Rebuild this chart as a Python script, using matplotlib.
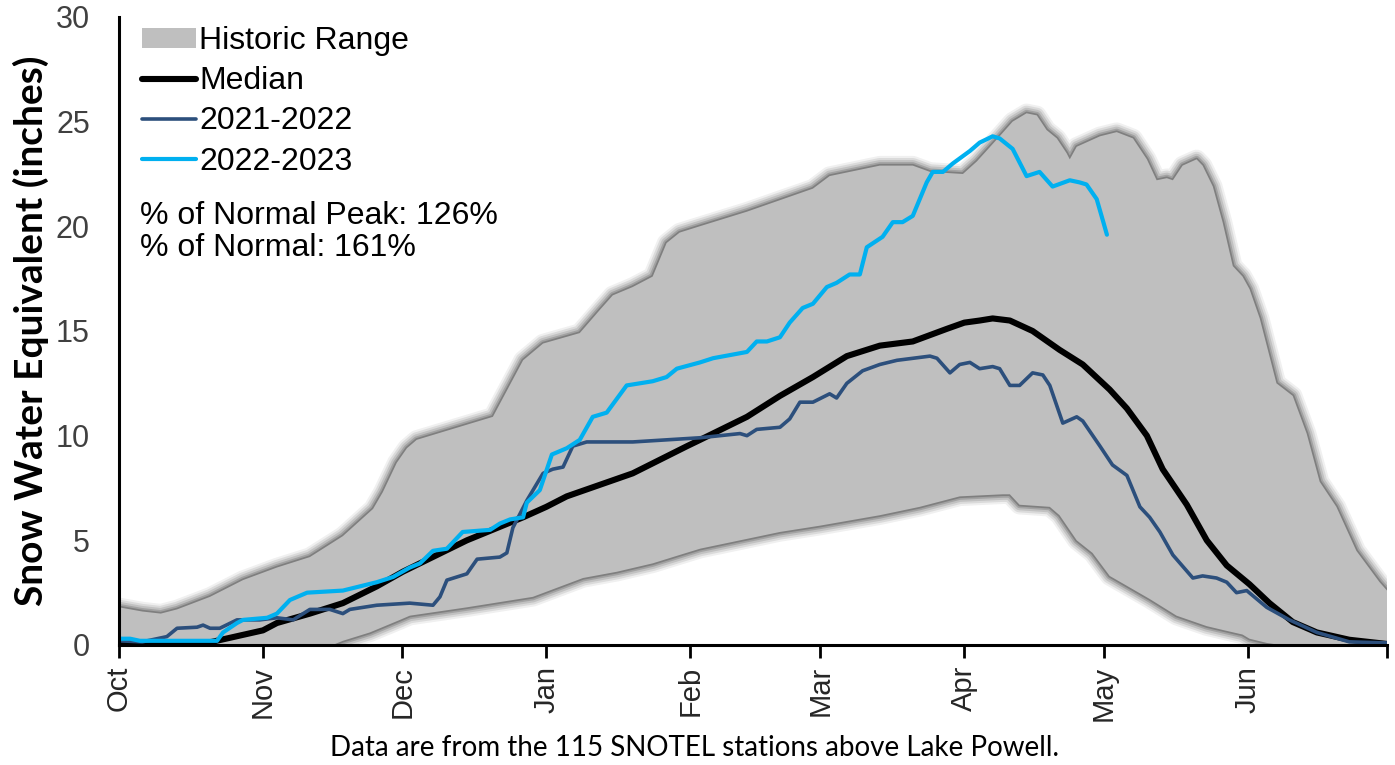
import matplotlib.pyplot as plt
from matplotlib.lines import Line2D
from matplotlib.patches import Patch
import numpy as np

# days since Oct 1 / snow water equivalent (inches)
hist_upper_day = [0, 5, 9, 12.5, 19.6, 26.7, 34, 41.1, 48.2, 54.7, 56.8, 59.8, 62, 64.1, 80.5, 87,
                  91.3, 99.2, 103.5, 106.3, 110.6, 114.9, 117.9, 120.7, 125, 135.2, 149.4, 153,
                  163.8, 170.9, 174.6, 181.7, 184.7, 189.6, 192.4, 195.4, 197.6, 199.7, 201.9, 204,
                  204.7, 206.2, 211.2, 214.8, 218.3, 221.3, 223.4, 225.6, 226.9, 229, 232, 233.3,
                  235.5, 237.6, 239.8, 241.9, 243.4, 245.6, 249.2, 252.7, 255.7, 258.5, 262.1,
                  266.4, 271.4, 273]
hist_upper = [1.8, 1.6, 1.5, 1.7, 2.3, 3.1, 3.7, 4.2, 5.2, 6.5, 7.3, 8.7, 9.4, 9.8, 10.9, 13.6,
              14.4, 14.9, 16.0, 16.7, 17.1, 17.6, 19.2, 19.7, 20.0, 20.7, 21.8, 22.4,
              22.9, 22.9, 22.6, 22.5, 23.1, 24.3, 25.0, 25.4, 25.3, 24.6, 24.2, 23.5,
              23.2, 23.8, 24.3, 24.5, 24.2, 23.2, 22.2, 22.3, 22.2, 22.9, 23.2, 22.9,
              21.9, 20.2, 18.1, 17.6, 17.0, 15.6, 12.5, 11.9, 10.1, 7.8, 6.6,
              4.5, 3.0, 2.6]

hist_lower_day = [0, 46, 48.2, 54, 60.5, 62.6, 74.9, 89.1, 99.9, 107.2, 114.9, 120.7, 125.1,
                  133.7, 142.3, 150.9, 163.8, 172.4, 181, 190.3, 191.8, 193.9, 200.4, 202.5,
                  206.2, 209.6, 213.3, 221.9, 227.7, 234.2, 238, 241.9, 243.4, 247.1, 250, 273]
hist_lower = [0, 0, 0.2, 0.6, 1.2, 1.4, 1.8, 2.3, 3.2, 3.5, 3.9, 4.3, 4.6,
              5.0, 5.4, 5.7, 6.2, 6.6, 7.1, 7.2, 7.2, 6.7, 6.6, 6.2,
              5.0, 4.4, 3.3, 2.2, 1.4, 0.9, 0.7, 0.5, 0.3, 0.1, 0, 0]

median_day = [0, 15, 20, 25, 31, 34, 41.1, 48.2, 55.5, 61.1, 74.9, 87, 92, 96.4, 110.6, 122.3,
              125.1, 135.2, 142.3, 149.4, 156.7, 163.8, 170.9, 178.2, 182, 185.3, 188.1, 191.8,
              196.7, 202.5, 207.5, 213.3, 217, 221.3, 224.7, 229.9, 234.2, 238.5, 243.4, 247.7,
              252.7, 257.9, 264.9, 273]
median = [0, 0, 0.15, 0.4, 0.7, 1.05, 1.5, 2.0, 2.8, 3.5, 5.0, 6.1, 6.6, 7.1, 8.2, 9.5,
          9.8, 10.9, 11.9, 12.8, 13.8, 14.3, 14.5, 15.1, 15.4, 15.5, 15.6, 15.5,
          15.0, 14.1, 13.4, 12.2, 11.3, 10.0, 8.4, 6.7, 5.0, 3.8, 2.9, 2.0,
          1.1, 0.6, 0.25, 0.05]

wy2022_day = [0, 5, 10.3, 12.5, 16.8, 18.1, 19.6, 21.7, 25.4, 30.3, 34, 37.5, 41.1, 45.4, 48.2,
              49.7, 55.5, 62.6, 67.6, 69.1, 70.6, 74.9, 77.1, 82, 83.5, 84.8, 87.8, 91.3, 93.4,
              95.6, 97.7, 100.7, 110.6, 125.1, 133.7, 135.2, 137.3, 142.3, 144.4, 146.6, 149.4,
              153, 154.5, 156.7, 160.1, 163.8, 167.5, 174.6, 176.1, 178.9, 181, 183.2, 185.3,
              188.1, 189.6, 191.8, 193.9, 196.7, 198.9, 200.4, 203.2, 206.2, 207.5, 211.2,
              213.9, 217, 219.8, 221.9, 224.1, 226.9, 231.2, 233.3, 236.3, 238.5, 240.6, 242.8,
              247.1, 252, 257.9, 264.9, 273]
wy2022 = [0.2, 0.15, 0.4, 0.8, 0.85, 0.95, 0.8, 0.8, 1.2, 1.2, 1.3, 1.2, 1.7, 1.7, 1.5,
          1.7, 1.9, 2.0, 1.9, 2.3, 3.1, 3.4, 4.1, 4.2, 4.4, 5.6, 6.9, 8.2, 8.4,
          8.5, 9.5, 9.7, 9.7, 9.9, 10.1, 10.0, 10.3, 10.4, 10.8, 11.6, 11.6,
          12.0, 11.8, 12.5, 13.1, 13.4, 13.6, 13.8, 13.7, 13.0, 13.4, 13.5, 13.2,
          13.3, 13.2, 12.4, 12.4, 13.0, 12.9, 12.4, 10.6, 10.9, 10.7, 9.5,
          8.6, 8.1, 6.6, 6.1, 5.4, 4.3, 3.2, 3.3, 3.2, 3.0, 2.5, 2.6,
          1.8, 1.2, 0.6, 0.15, 0.1]

wy2023_day = [0, 2.4, 4.5, 11, 21.1, 22.4, 25.4, 26.7, 31.9, 34, 36.8, 40.5, 48.2, 55.5, 59,
              62.6, 64.8, 67.6, 70.6, 74, 79.9, 82, 84.2, 87, 87.8, 90.6, 93.2, 96.4, 99.2, 102,
              105, 109.3, 114.9, 117.9, 120.1, 125.1, 127.9, 135.2, 137.3, 139.5, 142.3, 144.4,
              147.2, 149.4, 152.4, 154.5, 157.3, 159.5, 161, 164.4, 166.6, 168.7, 170.9, 173.9,
              175.2, 177.4, 179.5, 183.2, 185.3, 188.1, 189.6, 192.4, 195.4, 198.2, 201, 204.7,
              206.8, 208.3, 210.5, 211.8, 212.7]
wy2023 = [0.3, 0.3, 0.2, 0.2, 0.2, 0.6, 1.05, 1.2, 1.3, 1.5, 2.15, 2.5, 2.6, 3.0, 3.25,
          3.7, 3.9, 4.5, 4.6, 5.4, 5.5, 5.8, 6.0, 6.1, 6.8, 7.4, 9.1, 9.4, 9.8, 10.9,
          11.1, 12.4, 12.6, 12.8, 13.2, 13.5, 13.7, 14.0, 14.5, 14.5, 14.7, 15.4,
          16.1, 16.3, 17.1, 17.3, 17.7, 17.7, 19.0, 19.5, 20.2, 20.2, 20.5, 22.1,
          22.6, 22.6, 23.0, 23.6, 24.0, 24.3, 24.2, 23.7, 22.4, 22.6, 21.9, 22.2,
          22.1, 22.0, 21.3, 20.3, 19.6]

month_days = [0, 31, 61, 92, 123, 151, 182, 212, 243, 273]
month_labels = ["Oct", "Nov", "Dec", "Jan", "Feb", "Mar", "Apr", "May", "Jun", ""]
y_ticks = [0, 5, 10, 15, 20, 25, 30]

pct_peak = 126
pct_normal = 161

# ----------------------------------------------------------------------------------------------
# figure
# ----------------------------------------------------------------------------------------------
plt.rcParams["font.family"] = ["Liberation Sans", "DejaVu Sans"]
fig = plt.figure(figsize=(13.95, 7.65), dpi=100)
ax = fig.add_axes([119 / 1395, 120 / 765, (1387 - 119) / 1395, (645 - 17) / 765])

poly_x = np.concatenate([hist_upper_day, hist_lower_day[::-1]])
poly_y = np.concatenate([hist_upper, hist_lower[::-1]])

# soft shadow round the historic range
for w, a in [(14, 0.08), (11, 0.12), (8, 0.16), (5, 0.24), (2.5, 0.35)]:
    ax.fill(poly_x, poly_y, facecolor="none", edgecolor="#404040", linewidth=w, alpha=a,
            joinstyle="round", zorder=1)
ax.fill(poly_x, poly_y, facecolor="#bfbfbf", edgecolor="none", zorder=2)

ax.plot(median_day, median, color="black", linewidth=4.4, solid_capstyle="round", zorder=3)
ax.plot(wy2022_day, wy2022, color="#2c4f7c", linewidth=2.6, solid_capstyle="round", zorder=4)
ax.plot(wy2023_day, wy2023, color="#00b0f0", linewidth=3.0, solid_capstyle="round", zorder=5)

ax.set_xlim(0, 273)
ax.set_ylim(0, 30)
ax.set_xticks(month_days)
ax.set_xticklabels(month_labels, rotation=90, fontsize=21, color="#262626")
ax.set_yticks(y_ticks)
ax.set_yticklabels([str(v) for v in y_ticks], fontsize=22, color="#404040")
ax.tick_params(axis="x", length=9, width=2, direction="out", pad=6)
ax.tick_params(axis="y", length=0, pad=21)

for side in ["top", "right"]:
    ax.spines[side].set_visible(False)
for side in ["left", "bottom"]:
    ax.spines[side].set_linewidth(2.2)
    ax.spines[side].set_zorder(6)

ax.set_ylabel("Snow Water Equivalent (inches)", fontsize=28, fontweight="bold",
              family=["Lato", "DejaVu Sans"])
ax.yaxis.set_label_coords(-0.055, 0.5)

handles = [
    Patch(facecolor="#bfbfbf", edgecolor="none"),
    Line2D([], [], color="black", linewidth=4.4, solid_capstyle="round"),
    Line2D([], [], color="#2c4f7c", linewidth=2.6, solid_capstyle="round"),
    Line2D([], [], color="#00b0f0", linewidth=3.0, solid_capstyle="round"),
]
labels = ["Historic Range", "Median", "2021-2022", "2022-2023"]
ax.legend(handles, labels, loc="upper left", bbox_to_anchor=(0.008, 1.006), frameon=False,
          fontsize=23, handlelength=1.7, handleheight=0.6, handletextpad=0.1,
          labelspacing=0.32, borderaxespad=0)

fig.text(140 / 1395, 1 - 216 / 765, f"% of Normal Peak: {pct_peak}%", fontsize=23,
         va="center", ha="left")
fig.text(140 / 1395, 1 - 248 / 765, f"% of Normal: {pct_normal}%", fontsize=23,
         va="center", ha="left")

fig.text(695 / 1395, 1 - 748 / 765, "Data are from the 115 SNOTEL stations above Lake Powell.",
         fontsize=20, ha="center", va="center", family=["Lato", "DejaVu Sans"])

fig.savefig("out.png", dpi=100)
